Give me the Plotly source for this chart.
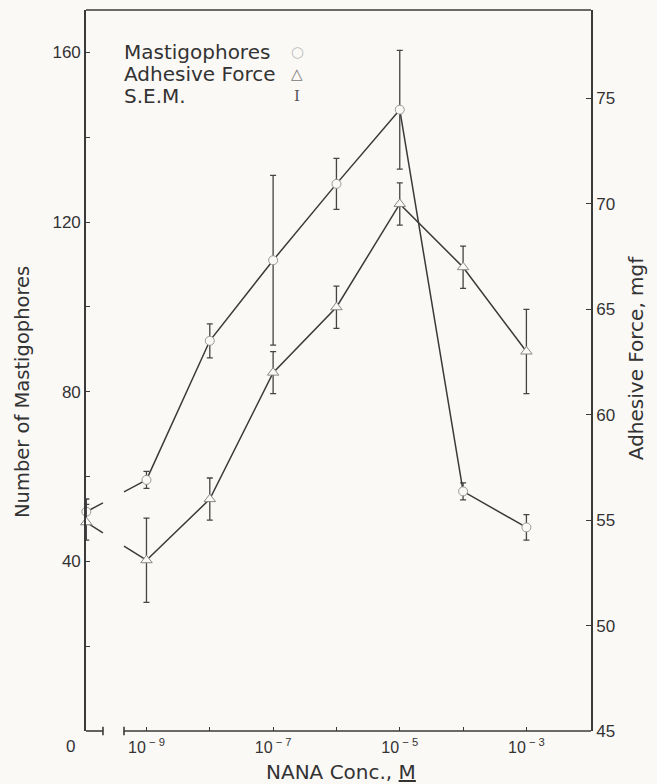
import numpy as np
import plotly.graph_objects as go

# ---------------- data ----------------
exponents = [-9, -8, -7, -6, -5, -4, -3]          # log10 of NANA concentration (M)
mastigophores = [59.2, 92, 111, 129, 146.5, 56.5, 48]
mastigophores_sem = [2, 4, 20, 6, 14, 2, 3]
adhesive_force = [53.1, 56.0, 62.0, 65.1, 70.0, 67.0, 63.0]
adhesive_sem = [2, 1, 1, 1, 1, 1, 2]

control_mastigophores = 51.7
control_mastigophores_sem = 3
control_adhesive = 54.9
control_adhesive_sem = 0.85

x_tick_vals = [-9, -8, -7, -6, -5, -4, -3]
x_tick_text = ["10<sup> − 9</sup>", "", "10<sup> − 7</sup>", "", "10<sup> − 5</sup>", "", "10<sup> − 3</sup>"]
left_tick_vals = [0, 20, 40, 60, 80, 100, 120, 140, 160]
left_tick_text = ["", "", "40", "", "80", "", "120", "", "160"]
right_tick_vals = [45, 50, 55, 60, 65, 70, 75]

# ---------------- layout constants ----------------
CONTROL_X = -9.95            # position of the control (0 M) point on the broken axis
BREAK = (-9.687, -9.355)     # axis break
X_RANGE = [-9.955, -1.98]
BG = "#fbf9f6"
INK = "#3a3a3a"
TICKFONT = dict(family="Liberation Sans, Arial, sans-serif", size=17, color="#333")
TITLEFONT = dict(family="DejaVu Sans, sans-serif", size=19, color="#333")

fig = go.Figure()

def connector(y0, y1, yaxis):
    """line from control to the 1e-9 point, interrupted at the axis break"""
    xs = np.array([CONTROL_X, exponents[0]])
    ys = np.array([y0, y1])
    g0 = np.interp(BREAK[0], xs, ys)
    g1 = np.interp(BREAK[1], xs, ys)
    fig.add_trace(go.Scatter(x=[CONTROL_X, BREAK[0]], y=[y0, g0], mode="lines",
                             line=dict(color=INK, width=1.5), yaxis=yaxis,
                             showlegend=False, hoverinfo="skip", cliponaxis=False))
    fig.add_trace(go.Scatter(x=[BREAK[1], exponents[0]], y=[g1, y1], mode="lines",
                             line=dict(color=INK, width=1.5), yaxis=yaxis,
                             showlegend=False, hoverinfo="skip", cliponaxis=False))

connector(control_mastigophores, mastigophores[0], "y")
connector(control_adhesive, adhesive_force[0], "y2")

err_style = dict(type="data", color="#444", thickness=1.3, width=3)
marker_style = dict(color=BG, size=9, line=dict(color="#999", width=1))

# mastigophores (left axis)
fig.add_trace(go.Scatter(
    x=exponents, y=mastigophores, mode="lines+markers",
    line=dict(color=INK, width=1.5),
    marker=dict(symbol="circle", **marker_style),
    error_y=dict(array=mastigophores_sem, **err_style),
    yaxis="y", name="Mastigophores", showlegend=False))
fig.add_trace(go.Scatter(
    x=[CONTROL_X], y=[control_mastigophores], mode="markers",
    marker=dict(symbol="circle", **marker_style),
    error_y=dict(array=[control_mastigophores_sem], **err_style),
    yaxis="y", showlegend=False, cliponaxis=False))

# adhesive force (right axis)
fig.add_trace(go.Scatter(
    x=exponents, y=adhesive_force, mode="lines+markers",
    line=dict(color=INK, width=1.5),
    marker=dict(symbol="triangle-up", color=BG, size=10, line=dict(color="#888", width=1)),
    error_y=dict(array=adhesive_sem, **err_style),
    yaxis="y2", name="Adhesive Force", showlegend=False))
fig.add_trace(go.Scatter(
    x=[CONTROL_X], y=[control_adhesive], mode="markers",
    marker=dict(symbol="triangle-up", color=BG, size=10, line=dict(color="#888", width=1)),
    error_y=dict(array=[control_adhesive_sem], **err_style),
    yaxis="y2", showlegend=False, cliponaxis=False))

# broken x axis line + top frame
shapes = [
    dict(type="line", xref="x", yref="paper", x0=X_RANGE[0], x1=BREAK[0], y0=0, y1=0,
         line=dict(color=INK, width=1.6)),
    dict(type="line", xref="x", yref="paper", x0=BREAK[1], x1=X_RANGE[1], y0=0, y1=0,
         line=dict(color=INK, width=1.6)),
    dict(type="line", xref="x", yref="paper", x0=BREAK[0], x1=BREAK[0], y0=-0.006, y1=0.006,
         line=dict(color=INK, width=1.6)),
    dict(type="line", xref="x", yref="paper", x0=BREAK[1], x1=BREAK[1], y0=-0.006, y1=0.006,
         line=dict(color=INK, width=1.6)),
    dict(type="line", xref="paper", yref="paper", x0=0, x1=1, y0=1, y1=1,
         line=dict(color=INK, width=1.6)),
]

annotations = [
    dict(text="0", xref="paper", yref="paper", x=-0.03, y=-0.022, showarrow=False,
         font=TICKFONT, xanchor="center", yanchor="middle"),
    dict(text="Number of Mastigophores", xref="paper", yref="paper", x=-0.127, y=0.47,
         textangle=-90, showarrow=False, font=dict(TITLEFONT, size=19.5),
         xanchor="center", yanchor="middle"),
    dict(text="Adhesive Force, mgf", xref="paper", yref="paper", x=1.089, y=0.517,
         textangle=-90, showarrow=False, font=dict(TITLEFONT, size=20),
         xanchor="center", yanchor="middle"),
    dict(text="NANA Conc., <u>M</u>", xref="paper", yref="paper", x=0.505, y=-0.057,
         showarrow=False, font=dict(TITLEFONT, size=20), xanchor="center", yanchor="middle"),
]
legend_rows = [("Mastigophores", "○", "#bbb", 0.9417),
               ("Adhesive Force", "△", "#777", 0.9112),
               ("S.E.M.", "I", "#555", 0.8807)]
for label, sym, col, yy in legend_rows:
    annotations.append(dict(text=label, xref="paper", yref="paper", x=0.0713, y=yy,
                            showarrow=False, xanchor="left", yanchor="middle",
                            font=dict(TITLEFONT, size=20)))
    annotations.append(dict(text=sym, xref="paper", yref="paper", x=0.418, y=yy,
                            showarrow=False, xanchor="center", yanchor="middle",
                            font=dict(family="DejaVu Serif, serif", size=15, color=col)))

fig.update_layout(
    width=657, height=784,
    margin=dict(l=86, r=66, t=10, b=53),
    paper_bgcolor=BG, plot_bgcolor=BG,
    showlegend=False,
    shapes=shapes, annotations=annotations,
    xaxis=dict(range=X_RANGE, tickmode="array", tickvals=x_tick_vals, ticktext=x_tick_text,
               ticks="inside", ticklen=4, tickcolor=INK, showline=False, showgrid=False,
               zeroline=False, tickfont=dict(TICKFONT, size=16), ticklabelstandoff=5),
    yaxis=dict(range=[0, 170], tickmode="array", tickvals=left_tick_vals, ticktext=left_tick_text,
               ticks="inside", ticklen=4, tickcolor=INK, showline=True, linecolor=INK,
               linewidth=1.6, showgrid=False, zeroline=False, tickfont=TICKFONT),
    yaxis2=dict(range=[45, 79.2], overlaying="y", side="right", tickmode="array",
                tickvals=right_tick_vals, ticks="inside", ticklen=5, tickcolor=INK,
                showline=True, linecolor=INK, linewidth=1.6, showgrid=False, zeroline=False,
                tickfont=TICKFONT),
)

fig.write_html(
    "out.html",
    config={"displayModeBar": False},
    post_script="document.body.style.margin='0';document.body.style.background='%s';" % BG,
)
